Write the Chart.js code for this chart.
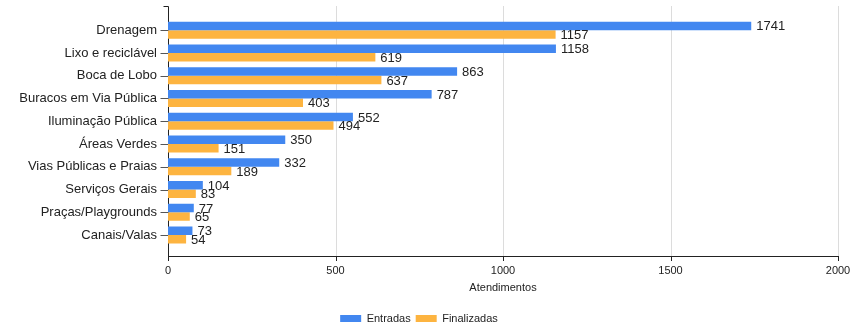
<!DOCTYPE html>
<html>
<head>
<meta charset="utf-8">
<script src="https://cdn.jsdelivr.net/npm/chart.js@4/dist/chart.umd.min.js"></script>
<style>
  html, body { margin: 0; padding: 0; background: #fff; }
  #wrap { width: 851px; height: 329px; }
</style>
</head>
<body>
<div id="wrap"><canvas id="grafico"></canvas></div>
<script>
// dados
const categorias = ['Drenagem', 'Lixo e reciclável', 'Boca de Lobo', 'Buracos em Via Pública',
  'Iluminação Pública', 'Áreas Verdes', 'Vias Públicas e Praias', 'Serviços Gerais',
  'Praças/Playgrounds', 'Canais/Valas'];
const entradas = [1741, 1158, 863, 787, 552, 350, 332, 104, 77, 73];
const finalizadas = [1157, 619, 637, 403, 494, 151, 189, 83, 65, 54];
const ticksX = [0, 500, 1000, 1500, 2000];

// eixos e grade desenhados à mão (passam um pouco do chartArea, como no original)
const eixos = {
  id: 'eixos',
  beforeDatasetsDraw(chart) {
    const ctx = chart.ctx;
    const x = chart.scales.x, y = chart.scales.y;
    const topo = 6, base = 256;
    ctx.save();
    ctx.lineWidth = 1;
    ctx.strokeStyle = '#dcdcdc';
    ticksX.forEach(function(v) {
      if (v === 0) return;
      const px = Math.round(x.getPixelForValue(v)) + 0.5;
      ctx.beginPath(); ctx.moveTo(px, topo); ctx.lineTo(px, base); ctx.stroke();
    });
    const x0 = Math.round(x.getPixelForValue(0)) + 0.5;
    ctx.strokeStyle = '#222';
    ctx.beginPath();
    ctx.moveTo(x0 - 5, topo + 0.5); ctx.lineTo(x0, topo + 0.5);
    ctx.lineTo(x0, base + 0.5);
    ctx.lineTo(Math.round(x.getPixelForValue(2000)) + 0.5, base + 0.5);
    ctx.stroke();
    ticksX.forEach(function(v) {
      const px = Math.round(x.getPixelForValue(v)) + 0.5;
      ctx.beginPath(); ctx.moveTo(px, base); ctx.lineTo(px, base + 5); ctx.stroke();
    });
    ctx.strokeStyle = '#555';
    categorias.forEach(function(c, i) {
      const py = Math.round(y.getPixelForValue(i)) + 0.5;
      ctx.beginPath(); ctx.moveTo(x0 - 8, py); ctx.lineTo(x0, py); ctx.stroke();
    });
    ctx.restore();
  }
};

// rótulos com os valores na ponta das barras
const rotulos = {
  id: 'rotulos',
  afterDatasetsDraw(chart) {
    const ctx = chart.ctx;
    ctx.save();
    ctx.font = '13px "Liberation Sans", Arial, sans-serif';
    ctx.fillStyle = '#222';
    ctx.textBaseline = 'middle';
    ctx.textAlign = 'left';
    chart.data.datasets.forEach(function(ds, d) {
      chart.getDatasetMeta(d).data.forEach(function(el, i) {
        ctx.fillText(ds.data[i], el.x + 5, el.y + 1);
      });
    });
    ctx.restore();
  }
};

new Chart(document.getElementById('grafico'), {
  type: 'bar',
  data: {
    labels: categorias,
    datasets: [{
      label: 'Entradas',
      data: entradas,
      backgroundColor: '#4287f0',
      borderWidth: 0,
      categoryPercentage: 0.75,
      barPercentage: 1.0
    }, {
      label: 'Finalizadas',
      data: finalizadas,
      backgroundColor: '#fdb440',
      borderWidth: 0,
      categoryPercentage: 0.75,
      barPercentage: 1.0
    }]
  },
  options: {
    indexAxis: 'y',
    responsive: true,
    maintainAspectRatio: false,
    animation: false,
    layout: { padding: { top: 18, right: 13, left: 0, bottom: -5 } },
    scales: {
      x: {
        min: 0,
        max: 2000,
        afterBuildTicks(scale) { scale.ticks = ticksX.map(v => ({ value: v })); },
        afterFit(scale) {
          scale.height = 61.6;
          scale.paddingLeft = 0;
          scale.paddingRight = 0;
        },
        grid: { display: false, drawTicks: false },
        border: { display: false },
        ticks: {
          padding: 18,
          color: '#222',
          callback: function(v) { return String(v); },
          font: { family: '"Liberation Sans", Arial, sans-serif', size: 11 }
        },
        title: {
          display: true,
          text: 'Atendimentos',
          color: '#222',
          font: { family: '"Liberation Sans", Arial, sans-serif', size: 11 },
          padding: { top: 4, bottom: 13 }
        }
      },
      y: {
        offset: true,
        afterFit(scale) { scale.width = 168; },
        grid: { display: false, drawTicks: false },
        border: { display: false },
        ticks: {
          padding: 11,
          color: '#222',
          autoSkip: false,
          font: { family: '"Liberation Sans", Arial, sans-serif', size: 13 }
        }
      }
    },
    plugins: {
      legend: {
        position: 'bottom',
        labels: {
          boxWidth: 21,
          boxHeight: 7,
          padding: 5,
          color: '#222',
          font: { family: '"Liberation Sans", Arial, sans-serif', size: 11 }
        }
      },
      tooltip: { enabled: false }
    }
  },
  plugins: [eixos, rotulos]
});
</script>
</body>
</html>
